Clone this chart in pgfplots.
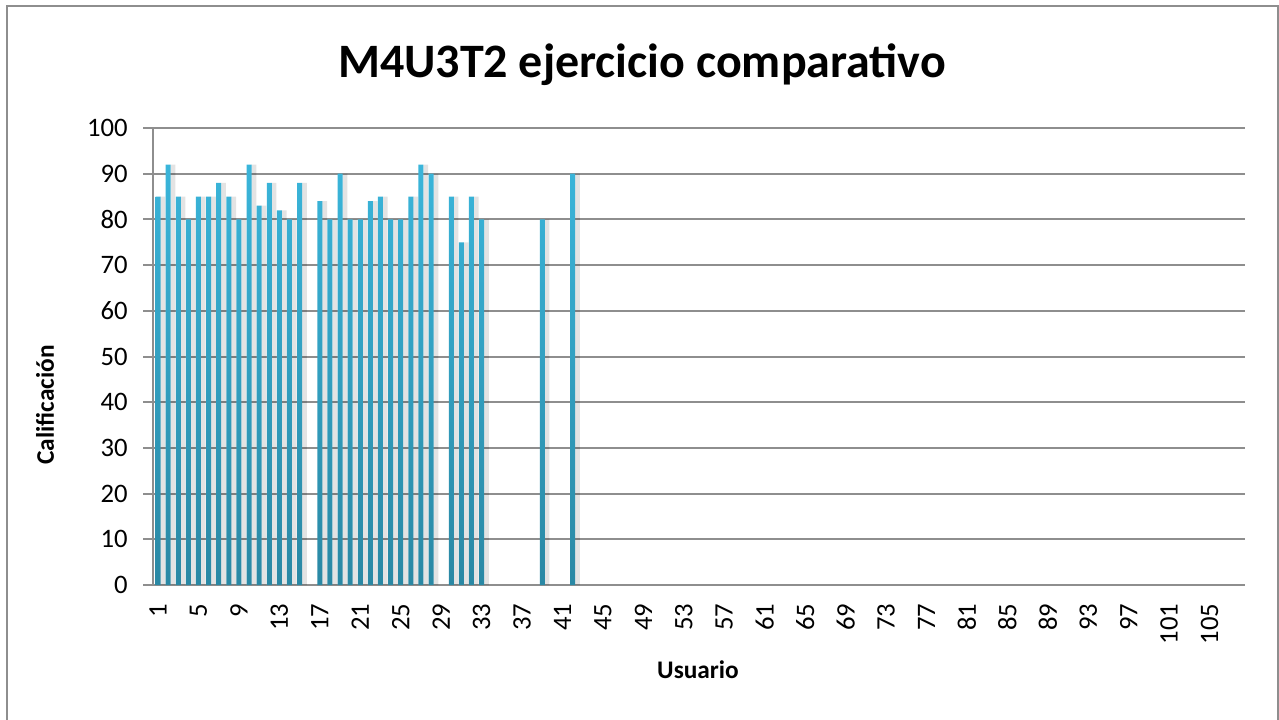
\documentclass[border=0pt]{standalone}
\usepackage{pgfplots}
\pgfplotsset{compat=1.18}
\usepackage{fontspec}
\setmainfont{Carlito}
\definecolor{bartop}{HTML}{3AB5DA}
\definecolor{barbot}{HTML}{2A88A4}
\definecolor{gridc}{HTML}{8E8E8E}
\begin{document}
\begin{tikzpicture}
\path[use as bounding box] (-114.75pt,-100.5pt) rectangle (844.5pt,438.75pt);
\draw[gridc, line width=1.5pt] (-109.5pt,-101pt) -- (-109.5pt,434.25pt) -- (843.75pt,434.25pt) -- (843.75pt,-101pt);
\begin{axis}[
  at={(0,0)}, anchor=south west,
  scale only axis, width=819pt, height=342.75pt,
  xmin=0.5, xmax=108.5, ymin=0, ymax=100,
  axis lines=left, axis line style={-, gridc, line width=1.5pt},
  ytick={0,10,...,100},
  ymajorgrids, grid style={gridc, line width=1.5pt},
  xtick={1,5,...,105},
  xtick style={draw=none},
  ytick style={gridc, line width=1.5pt},
  tick align=outside, major tick length=7.5pt,
  /pgf/number format/assume math mode=true,
  yticklabel style={font=\fontsize{20}{22}\selectfont, anchor=east, xshift=-8pt},
  xticklabel style={font=\fontsize{20}{22}\selectfont, rotate=90, anchor=east, xshift=-3pt},
]
\addplot[ybar, bar width=3.6pt, bar shift=3.6pt, fill=black, fill opacity=0.11, draw=none] coordinates {
(1,85)(2,92)(3,85)(4,80)(5,85)(6,85)(7,88)(8,85)(9,80)(10,92)(11,83)(12,88)(13,82)(14,80)(15,88)
(17,84)(18,80)(19,90)(20,80)(21,80)(22,84)(23,85)(24,80)(25,80)(26,85)(27,92)(28,90)
(30,85)(31,75)(32,85)(33,80)(39,80)(42,90)};
\addplot[ybar, bar width=3.75pt, bar shift=0pt, draw=none, top color=bartop, bottom color=barbot] coordinates {
(1,85)(2,92)(3,85)(4,80)(5,85)(6,85)(7,88)(8,85)(9,80)(10,92)(11,83)(12,88)(13,82)(14,80)(15,88)
(17,84)(18,80)(19,90)(20,80)(21,80)(22,84)(23,85)(24,80)(25,80)(26,85)(27,92)(28,90)
(30,85)(31,75)(32,85)(33,80)(39,80)(42,90)};
\end{axis}
\node[font=\fontsize{36}{42}\selectfont\bfseries] at (366.75pt,390pt) {M4U3T2 ejercicio comparativo};
\node[font=\fontsize{19}{22}\selectfont\bfseries, rotate=90] at (-81pt,135pt) {Calificación};
\node[font=\fontsize{19}{22}\selectfont\bfseries] at (408.75pt,-63.75pt) {Usuario};
\end{tikzpicture}
\end{document}
